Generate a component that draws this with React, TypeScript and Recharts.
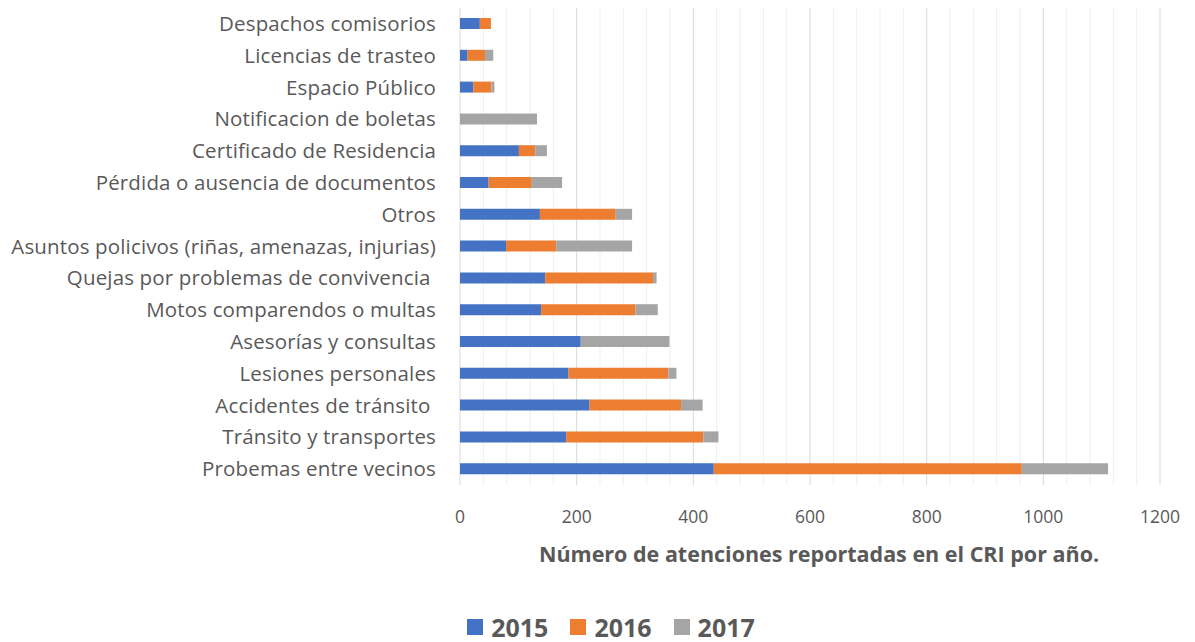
import { BarChart, Bar, XAxis, YAxis, CartesianGrid, Legend, Label } from 'recharts'

const categories = [
  'Despachos comisorios',
  'Licencias de trasteo',
  'Espacio Público',
  'Notificacion de boletas',
  'Certificado de Residencia',
  'Pérdida o ausencia de documentos',
  'Otros',
  'Asuntos policivos (riñas, amenazas, injurias)',
  'Quejas por problemas de convivencia ',
  'Motos comparendos o multas',
  'Asesorías y consultas',
  'Lesiones personales',
  'Accidentes de tránsito ',
  'Tránsito y transportes',
  'Probemas entre vecinos',
]

const values2015 = [34, 13, 23, 0, 101, 49, 137, 79, 146, 139, 207, 186, 222, 182, 435]
const values2016 = [19, 30, 31, 0, 28, 74, 130, 86, 185, 162, 0, 171, 157, 235, 528]
const values2017 = [0, 14, 5, 132, 20, 52, 28, 130, 6, 38, 152, 14, 37, 26, 148]

const xTicks = [0, 200, 400, 600, 800, 1000, 1200]
const minorTicks = [
  40, 80, 120, 160, 240, 280, 320, 360, 440, 480, 520, 560, 640, 680, 720, 760, 840, 880, 920, 960,
  1040, 1080, 1120, 1160,
]

const seriesNames = ['2015', '2016', '2017']
const colors = ['#4472C4', '#ED7D31', '#A5A5A5']

const data = categories.map((name, i) => ({
  name,
  y2015: values2015[i],
  y2016: values2016[i],
  y2017: values2017[i],
}))

const FONT = '"Open Sans", sans-serif'

function CategoryTick(props: any) {
  const { x, y, payload } = props
  return (
    <text
      x={x - 16}
      y={y}
      dy={7}
      textAnchor="end"
      fill="#595959"
      fontSize={20.5}
      letterSpacing={0.15}
      fontFamily={FONT}
      style={{ whiteSpace: 'pre' }}
    >
      {payload.value}
    </text>
  )
}

function LegendContent() {
  return (
    <div
      style={{
        display: 'flex',
        justifyContent: 'center',
        gap: 22,
        paddingLeft: 62,
        paddingTop: 14,
        fontFamily: FONT,
        lineHeight: '26px',
      }}
    >
      {seriesNames.map((s, i) => (
        <div key={s} style={{ display: 'flex', alignItems: 'center', gap: 8 }}>
          <span style={{ width: 16, height: 16, background: colors[i], display: 'inline-block' }} />
          <span style={{ fontSize: 25, fontWeight: 700, color: '#595959' }}>{s}</span>
        </div>
      ))}
    </div>
  )
}

export default function App() {
  return (
    <div style={{ position: 'absolute', left: 0, top: 0, background: '#fff' }}>
      <BarChart
        width={1195}
        height={642}
        data={data}
        layout="vertical"
        margin={{ top: 8, right: 35, left: 0, bottom: 0 }}
        barSize={11}
      >
        <CartesianGrid
          horizontal={false}
          stroke="#efefef"
          verticalCoordinatesGenerator={({ offset }: any) =>
            minorTicks.map((v) => offset.left + (v / 1200) * offset.width)
          }
        />
        <CartesianGrid horizontal={false} stroke="#d9d9d9" />
        <XAxis
          type="number"
          domain={[0, 1200]}
          ticks={xTicks}
          axisLine={false}
          tickLine={false}
          tickMargin={20}
          height={115}
          tick={{ fill: '#595959', fontSize: 17.5, fontFamily: FONT }}
        >
          <Label
            value="Número de atenciones reportadas en el CRI por año."
            position="insideBottom"
            offset={38}
            dx={9}
            style={{ fill: '#595959', fontSize: 21.5, fontWeight: 700, fontFamily: FONT }}
          />
        </XAxis>
        <YAxis
          type="category"
          dataKey="name"
          width={460}
          axisLine={false}
          tickLine={false}
          interval={0}
          tick={<CategoryTick />}
        />
        <Legend verticalAlign="bottom" height={42} content={<LegendContent />} />
        <Bar dataKey="y2015" name="2015" stackId="a" fill={colors[0]} isAnimationActive={false} />
        <Bar dataKey="y2016" name="2016" stackId="a" fill={colors[1]} isAnimationActive={false} />
        <Bar dataKey="y2017" name="2017" stackId="a" fill={colors[2]} isAnimationActive={false} />
      </BarChart>
    </div>
  )
}
